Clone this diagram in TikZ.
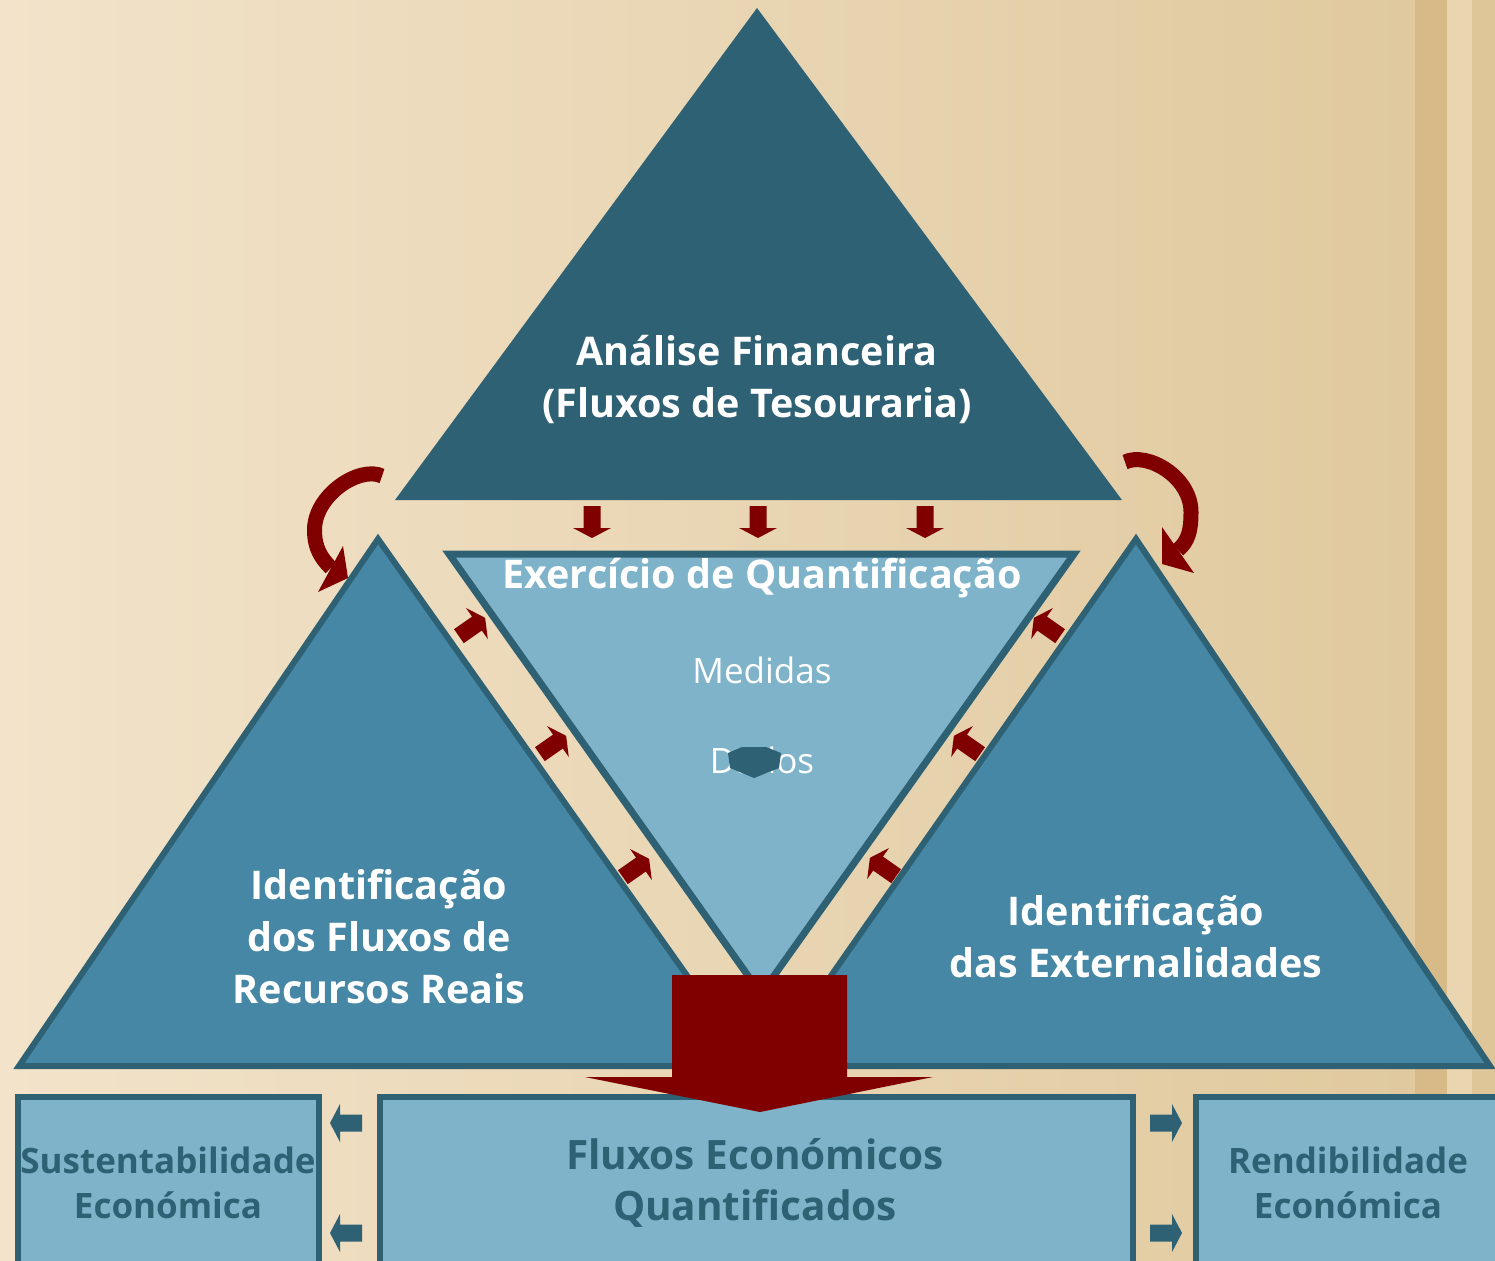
\documentclass[tikz,border=0pt]{standalone}
\usepackage{fontspec}
\setmainfont{Open Sans}
\definecolor{bgL}{HTML}{F2E3CA}
\definecolor{bgR}{HTML}{E0C99E}
\definecolor{stripeA}{HTML}{D8BA89}
\definecolor{stripeB}{HTML}{E9D5AF}
\definecolor{stripeC}{HTML}{DFC698}
\definecolor{cDark}{HTML}{2F6175}
\definecolor{cMid}{HTML}{4587A4}
\definecolor{cLight}{HTML}{7FB3C9}
\definecolor{cRed}{HTML}{800000}
\tikzset{
  barrow/.pic={\fill (-16,-8.5) -- (6,-8.5) -- (6,-19) -- (16,0) -- (6,19) -- (6,8.5) -- (-16,8.5) -- cycle;},
  tri/.style={fill=cMid, draw=cDark, line width=6, line join=miter},
  box/.style={fill=cLight, draw=cDark, line width=6},
  bigtxt/.style={text=white, align=center, inner sep=0, font=\fontsize{39.5}{52}\selectfont\bfseries},
  smalltxt/.style={text=white, align=center, inner sep=0, font=\fontsize{35}{40}\selectfont},
  boxtxt/.style={text=cDark, align=center, inner sep=0, font=\fontsize{35}{45}\selectfont\bfseries},
  boxtxtbig/.style={text=cDark, align=center, inner sep=0, font=\fontsize{40.5}{51}\selectfont\bfseries},
  curvearrow/.style={draw=cRed, line width=15, line cap=butt},
}
\begin{document}
\begin{tikzpicture}[x=1pt,y=-1pt]
\useasboundingbox (0,0) rectangle (1495,1260);
\clip (0,0) rectangle (1495,1260);
% background
\shade[left color=bgL, right color=bgR] (0,0) rectangle (1415,1260);
\fill[stripeA] (1415,0) rectangle (1447,1260);
\fill[stripeB] (1447,0) rectangle (1472,1260);
\fill[stripeC] (1472,0) rectangle (1495,1260);
% top triangle
\fill[cDark] (757,8) -- (395,500) -- (1122,500) -- cycle;
% side triangles
\path[tri] (378,539) -- (19,1066) -- (751,1066) -- cycle;
\path[tri] (1136,539) -- (768,1066) -- (1490,1066) -- cycle;
% inverted triangle
\path[fill=cLight, draw=cDark, line width=7, line join=miter] (449,554) -- (1074,554) -- (761,994) -- cycle;
% boxes
\path[box] (18,1097) rectangle (319,1300);
\path[box] (380,1097) rectangle (1133,1300);
\path[box] (1196,1097) rectangle (1520,1300);
% small red down arrows
\pic[color=cRed, rotate=-90] at (592,522) {barrow};
\pic[color=cRed, rotate=-90] at (758,522) {barrow};
\pic[color=cRed, rotate=-90] at (925,522) {barrow};
% diagonal arrows
\pic[color=cRed, rotate=35] at (472,627) {barrow};
\pic[color=cRed, rotate=35] at (553,745) {barrow};
\pic[color=cRed, rotate=35] at (636,868) {barrow};
\pic[color=cRed, rotate=145] at (1047,627) {barrow};
\pic[color=cRed, rotate=145] at (967,745) {barrow};
\pic[color=cRed, rotate=145] at (883,867) {barrow};
% box arrows
\pic[color=cDark, rotate=180] at (346,1123) {barrow};
\pic[color=cDark, rotate=180] at (346,1233) {barrow};
\pic[color=cDark] at (1166,1123) {barrow};
\pic[color=cDark] at (1166,1233) {barrow};
% curved arrows
\coordinate (la0) at (382,476);
\coordinate (la1) at (314.5,530);
\coordinate (la2) at (331,568);
\draw[curvearrow] (la0) .. controls (359.5,465.5) and (314.5,495) .. (la1) .. controls (314.5,548) and (321,558) .. (la2);
\fill[cRed] (343,546) -- (348,578) -- (318,592) -- cycle;
\coordinate (ra0) at (1125,462);
\coordinate (ra1) at (1191,512);
\coordinate (ra2) at (1178,550);
\draw[curvearrow] (ra0) .. controls (1147.5,451.5) and (1191,477) .. (ra1) .. controls (1191,530) and (1188.6,540.9) .. (ra2);
\fill[cRed] (1162,527) -- (1162,564) -- (1194,573) -- cycle;
% texts
\node[bigtxt] (fin) at (757,379) {Análise Financeira\\(Fluxos de Tesouraria)};
\node[bigtxt] (ex) at (762,578) {Exercício de Quantificação};
\node[smalltxt] (med) at (762,670) {Medidas};
\node[smalltxt] (dad) at (762,760) {Dados};
\fill[cDark] (728,753) -- (742,747) -- (766,747) -- (781,753) -- (779,768) -- (754,778) -- (730,768) -- cycle;
\node[bigtxt] (idl) at (379,937) {Identificação\\dos Fluxos de\\Recursos Reais};
\node[bigtxt] (idr) at (1136,937) {Identificação\\das Externalidades};
\node[boxtxt] (sus) at (168,1183) {Sustentabilidade\\Económica};
\node[boxtxtbig] (flx) at (755,1183) {Fluxos Económicos\\Quantificados};
\node[boxtxt] (ren) at (1348,1183) {Rendibilidade\\Económica};
% big arrow
\fill[cRed] (672,975) -- (847,975) -- (847,1077) -- (933,1077) -- (760,1112) -- (585,1077) -- (672,1077) -- cycle;
\end{tikzpicture}
\end{document}
